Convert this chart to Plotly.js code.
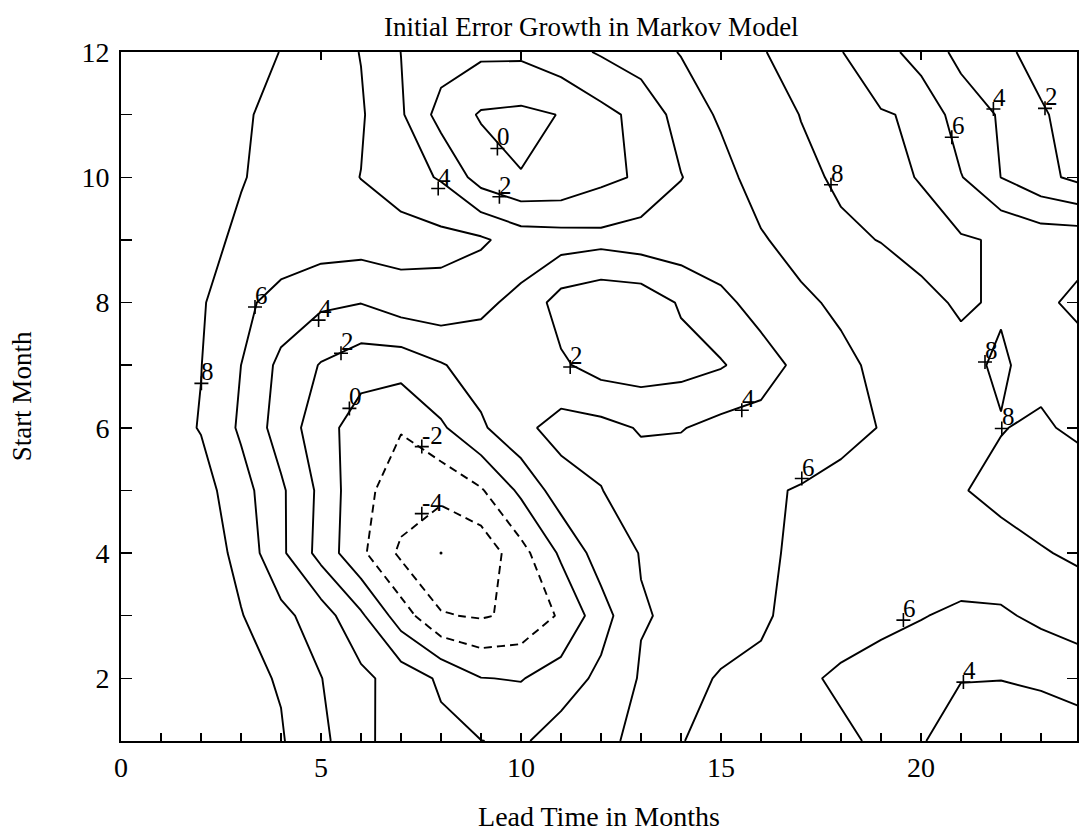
<!DOCTYPE html>
<html>
<head>
<meta charset="utf-8">
<script src="https://cdn.plot.ly/plotly-3.0.1.min.js"></script>
<style>
  html, body { margin: 0; padding: 0; background: #ffffff; }
  #chart { width: 1079px; height: 832px; }
</style>
</head>
<body>
<div id="chart"></div>
<script>
// Grid of lead times (months) and start months
const leadTime = [0, 1, 2, 3, 4, 5, 6, 7, 8, 9, 10, 11, 12, 13, 14, 15, 16, 17, 18, 19, 20, 21, 22, 23, 24];
const startMonth = [1, 2, 3, 4, 5, 6, 7, 8, 9, 10, 11, 12];

// Initial error growth, one row per start month (columns follow leadTime)
const month1  = [9.4, 9.3, 9.1, 8.7, 8.17, 6.45, 4.6, 2.9, 2.5, 2.03, 1.7, 3.0, 3.6, 4.43, 5.9, 6.9, 7.2, 7.0, 6.3, 5.73, 4.2, 2.7, 2.6, 2.8, 2.8];
const month2  = [9.4, 9.3, 9.0, 8.5, 7.85, 6.05, 4.5, 3.1, 1.7, 0.05, -0.1, 0.9, 2.5, 4.17, 5.25, 6.2, 6.6, 6.3, 5.73, 5.2, 4.7, 4.1, 4.05, 4.3, 5.0];
const month3  = [9.3, 9.2, 8.9, 8.1, 6.55, 4.98, 2.33, -1.0, -3.85, -4.2, -3.57, -1.72, 1.15, 3.89, 4.26, 4.9, 5.6, 6.93, 6.8, 6.5, 6.1, 5.6, 5.7, 6.45, 6.9];
const month4  = [9.4, 9.4, 9.2, 7.4, 4.4, 1.3, -1.6, -4.4, -5.7, -5.4, -2.7, 0.33, 2.94, 4.08, 4.6, 5.1, 5.6, 6.4, 6.9, 7.2, 7.4, 7.3, 7.4, 7.85, 8.35];
const month5  = [9.0, 9.0, 8.78, 6.82, 4.34, 1.52, -1.52, -2.85, -3.46, -2.2, 0.42, 3.05, 3.95, 4.9, 5.2, 5.5, 5.8, 6.1, 6.8, 7.2, 7.6, 7.9, 8.45, 9.0, 9.3];
const month6  = [8.9, 8.8, 7.9, 5.69, 3.09, 0.91, -1.1, -1.9, -0.3, 1.7, 3.5, 4.75, 4.6, 3.85, 3.9, 4.6, 4.8, 5.1, 5.2, 6.1, 6.8, 7.3, 7.93, 8.3, 7.5];
const month7  = [9.0, 8.9, 8.04, 6.0, 3.5, 1.87, 0.9, 0.77, 1.85, 2.9, 3.2, 2.3, 1.2, 1.0, 1.3, 1.84, 3.0, 4.6, 5.5, 6.5, 7.1, 7.65, 8.2, 7.4, 7.2];
const month8  = [9.2, 8.9, 8.22, 6.5, 5.24, 4.37, 4.05, 5.0, 5.25, 4.4, 3.5, 1.16, 0.5, 0.7, 2.23, 3.4, 4.9, 5.6, 6.4, 7.0, 7.7, 8.15, 7.85, 7.6, 8.5];
const month9  = [9.3, 9.1, 8.5, 7.7, 7.3, 7.0, 6.9, 6.9, 6.6, 6.3, 5.1, 4.9, 4.6, 5.0, 5.2, 5.6, 5.8, 6.8, 7.7, 8.05, 8.4, 8.2, 7.8, 7.2, 7.3];
const month10 = [9.3, 9.2, 8.9, 8.1, 7.42, 6.73, 5.97, 4.9, 3.8, 1.11, 0.06, 0.3, 1.5, 2.26, 3.93, 5.3, 6.9, 7.6, 8.27, 8.3, 7.94, 6.1, 3.98, 2.6, 1.4];
const month11 = [9.3, 9.2, 9.0, 8.23, 7.5, 6.8, 6.2, 4.25, 1.25, -0.19, -0.4, 0.06, 1.43, 2.57, 4.84, 6.29, 7.1, 8.05, 8.5, 8.1, 7.82, 4.79, 3.86, 2.3, 0.8];
const month12 = [9.2, 9.2, 9.1, 8.9, 7.95, 6.95, 5.94, 3.98, 3.0, 2.4, 2.4, 3.3, 4.2, 5.1, 6.1, 7.0, 7.9, 8.6, 8.05, 7.0, 4.9, 3.58, 2.6, 1.05, 0.6];

// Contour levels: negative levels dashed, zero and positive solid
const negativeLevels = { start: -4, end: -2, size: 2 };
const positiveLevels = { start: 0, end: 8, size: 2 };

// Inline contour labels ("+" mark with the level beside it)
const labelLead  = [9.41, 7.93, 9.46, 3.35, 4.94, 5.50, 2.01, 5.71, 7.52, 7.52, 11.23, 15.52, 17.75, 20.77, 21.81, 23.10, 21.60, 22.02, 17.02, 19.56, 21.06];
const labelMonth = [10.46, 9.82, 9.69, 7.93, 7.72, 7.19, 6.71, 6.31, 5.70, 4.63, 6.97, 6.28, 9.88, 10.64, 11.09, 11.10, 7.05, 5.99, 5.19, 2.93, 1.94];
const labelLevel = ['0', '4', '2', '6', '4', '2', '8', '0', '-2', '-4', '2', '4', '8', '6', '4', '2', '8', '8', '6', '6', '4'];

// Grid point of the minimum
const minLead = [8];
const minMonth = [4];

// Axis ticks
const leadTickVals = [0, 5, 10, 15, 20];
const leadTickText = ['0', '5', '10', '15', '20'];
const monthTickVals = [2, 4, 6, 8, 10, 12];
const monthTickText = ['2', '4', '6', '8', '10', '12'];

const grid = [month1, month2, month3, month4, month5, month6, month7, month8, month9, month10, month11, month12];

const serif = 'Liberation Serif, Times New Roman, serif';
const ink = '#000000';

const contourBase = {
  type: 'contour',
  x: leadTime,
  y: startMonth,
  z: grid,
  autocontour: false,
  showscale: false,
  hoverinfo: 'skip'
};

const traces = [
  Object.assign({}, contourBase, {
    contours: Object.assign({ coloring: 'none', showlabels: false }, negativeLevels),
    line: { color: ink, width: 1.9, dash: '8px,5px', smoothing: 0 }
  }),
  Object.assign({}, contourBase, {
    contours: Object.assign({ coloring: 'none', showlabels: false }, positiveLevels),
    line: { color: ink, width: 1.9, smoothing: 0 }
  }),
  {
    type: 'scatter',
    mode: 'markers',
    x: labelLead,
    y: labelMonth,
    marker: { symbol: 'cross-thin', size: 10, line: { width: 1.6, color: ink } },
    hoverinfo: 'skip',
    showlegend: false,
    cliponaxis: false
  },
  {
    type: 'scatter',
    mode: 'markers',
    x: minLead,
    y: minMonth,
    marker: { symbol: 'circle', size: 3, color: ink },
    hoverinfo: 'skip',
    showlegend: false
  },
  {
    // carries the top and right tick axes
    type: 'scatter',
    x: [null],
    y: [null],
    xaxis: 'x2',
    yaxis: 'y2',
    hoverinfo: 'skip',
    showlegend: false
  }
];

// level text set just above and to the right of each "+"
const labelNotes = labelLevel.map((txt, i) => ({
  x: labelLead[i],
  y: labelMonth[i],
  xref: 'x',
  yref: 'y',
  text: txt,
  showarrow: false,
  xanchor: 'left',
  yanchor: 'bottom',
  xshift: -1,
  yshift: -3,
  borderpad: 0,
  font: { family: serif, size: 25, color: ink }
}));

const tickFont = { family: serif, size: 28, color: ink };

const layout = {
  width: 1079,
  height: 832,
  autosize: false,
  margin: { l: 121, r: 2, t: 52, b: 91, pad: 0 },
  paper_bgcolor: '#ffffff',
  plot_bgcolor: '#ffffff',
  showlegend: false,
  font: { family: serif, color: ink },
  annotations: labelNotes,
  title: {
    text: 'Initial Error Growth in Markov Model',
    font: { family: serif, size: 27, color: ink },
    x: 0.548,
    xref: 'container',
    xanchor: 'center',
    y: 0.968,
    yref: 'container',
    yanchor: 'middle'
  },
  xaxis: {
    range: [0, 23.9],
    tickmode: 'array',
    tickvals: leadTickVals,
    ticktext: leadTickText,
    ticks: 'inside',
    ticklen: 8,
    tickwidth: 1.5,
    tickcolor: ink,
    minor: { dtick: 1, tick0: 0, ticks: 'inside', ticklen: 8, tickwidth: 1.5, tickcolor: ink, showgrid: false },
    showline: true,
    linecolor: ink,
    linewidth: 2,
    mirror: true,
    showgrid: false,
    zeroline: false,
    tickfont: tickFont,
    ticklabelstandoff: 0,
    title: { text: 'Lead Time in Months', font: { family: serif, size: 28, color: ink }, standoff: 38 }
  },
  yaxis: {
    range: [1, 12],
    tickmode: 'array',
    tickvals: monthTickVals,
    ticktext: monthTickText,
    ticks: 'inside',
    ticklen: 11,
    tickwidth: 1.5,
    tickcolor: ink,
    minor: { dtick: 1, tick0: 0, ticks: 'inside', ticklen: 11, tickwidth: 1.5, tickcolor: ink, showgrid: false },
    showline: true,
    linecolor: ink,
    linewidth: 2,
    mirror: true,
    showgrid: false,
    zeroline: false,
    tickfont: tickFont,
    ticklabelstandoff: 4,
    title: { text: 'Start Month', font: { family: serif, size: 27, color: ink }, standoff: 42 }
  },
  xaxis2: {
    overlaying: 'x',
    anchor: 'y2',
    side: 'top',
    range: [0, 23.9],
    tickmode: 'array',
    tickvals: [5, 10, 15, 20],
    ticks: 'inside',
    ticklen: 8,
    tickwidth: 1.5,
    tickcolor: ink,
    showticklabels: false,
    showline: false,
    showgrid: false,
    zeroline: false
  },
  yaxis2: {
    overlaying: 'y',
    anchor: 'x2',
    side: 'right',
    range: [1, 12],
    tickmode: 'array',
    tickvals: monthTickVals,
    ticks: 'inside',
    ticklen: 10,
    tickwidth: 1.5,
    tickcolor: ink,
    showticklabels: false,
    showline: false,
    showgrid: false,
    zeroline: false
  }
};

Plotly.newPlot('chart', traces, layout, { staticPlot: true, displayModeBar: false });
</script>
</body>
</html>
